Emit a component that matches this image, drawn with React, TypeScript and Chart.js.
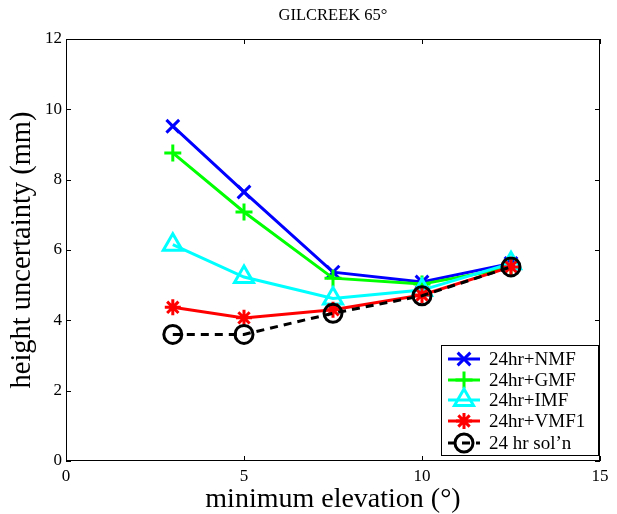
import React, { useEffect, useRef } from "react";
import { Chart, registerables } from "chart.js";
import { drawPoint } from "chart.js/helpers";

Chart.register(...registerables);

const titleText = "GILCREEK 65°";
const xTitle = "minimum elevation (°)";
const yTitle = "height uncertainty (mm)";
const elevations = [3, 5, 7.5, 10, 12.5];
const nmf = [9.52, 7.65, 5.37, 5.09, 5.62];
const gmf = [8.76, 7.08, 5.2, 5.03, 5.5];
const imf = [6.15, 5.23, 4.62, 4.86, 5.62];
const vmf1 = [4.37, 4.07, 4.3, 4.72, 5.52];
const soln = [3.6, 3.6, 4.2, 4.7, 5.52];
const seriesLabels = ["24hr+NMF", "24hr+GMF", "24hr+IMF", "24hr+VMF1", "24 hr sol’n"];
const xTicks = [0, 5, 10, 15];
const yTicks = [0, 2, 4, 6, 8, 10, 12];

const SERIF = "'Liberation Serif', 'DejaVu Serif', serif";

const styles = [
  { color: "#0000ff", point: "crossRot", radius: 9, dash: [] as number[] },
  { color: "#00ff00", point: "cross", radius: 8.5, dash: [] as number[] },
  { color: "#00ffff", point: "triangle", radius: 11, dash: [] as number[] },
  { color: "#ff0000", point: "star", radius: 8, dash: [] as number[] },
  { color: "#000000", point: "circle", radius: 9, dash: [8, 6] },
];

const values = [nmf, gmf, imf, vmf1, soln];

const framePlugin = {
  id: "frame",
  afterDraw(chart: any) {
    const { ctx, chartArea } = chart;
    const { left, right, top, bottom } = chartArea;
    const xs = chart.scales.x;
    const ys = chart.scales.y;
    ctx.save();
    ctx.strokeStyle = "#000";
    ctx.lineWidth = 1;
    ctx.setLineDash([]);
    ctx.strokeRect(left + 0.5, top + 0.5, right - left - 1, bottom - top - 1);
    ctx.beginPath();
    for (const v of xTicks) {
      const px = Math.round(xs.getPixelForValue(v)) + 0.5;
      ctx.moveTo(px, bottom);
      ctx.lineTo(px, bottom - 5);
      ctx.moveTo(px, top);
      ctx.lineTo(px, top + 5);
    }
    for (const v of yTicks) {
      const py = Math.round(ys.getPixelForValue(v)) + 0.5;
      ctx.moveTo(left, py);
      ctx.lineTo(left + 5, py);
      ctx.moveTo(right, py);
      ctx.lineTo(right - 5, py);
    }
    ctx.stroke();

    // title
    ctx.fillStyle = "#000";
    ctx.font = `16.5px ${SERIF}`;
    ctx.textAlign = "center";
    ctx.textBaseline = "middle";
    ctx.fillText(titleText, (left + right) / 2, 16);

    // legend
    const bx = 441, by = 345, bw = 157, bh = 110;
    ctx.fillStyle = "#fff";
    ctx.fillRect(bx, by, bw, bh);
    ctx.strokeStyle = "#000";
    ctx.lineWidth = 1;
    ctx.strokeRect(bx + 0.5, by + 0.5, bw, bh);
    const rowY = [359, 380, 400, 421, 443];
    styles.forEach((s, i) => {
      const y = rowY[i];
      ctx.save();
      ctx.strokeStyle = s.color;
      ctx.lineWidth = 3;
      ctx.setLineDash(s.dash);
      ctx.beginPath();
      ctx.moveTo(448, y);
      ctx.lineTo(480, y);
      ctx.stroke();
      ctx.setLineDash([]);
      ctx.fillStyle = "rgba(0,0,0,0)";
      ctx.lineWidth = 3;
      drawPoint(ctx, { pointStyle: s.point, radius: s.radius, borderWidth: 3, rotation: 0 } as any, 464, y);
      ctx.restore();
      ctx.fillStyle = "#000";
      ctx.font = `19px ${SERIF}`;
      ctx.textAlign = "left";
      ctx.textBaseline = "middle";
      ctx.fillText(seriesLabels[i], 489, y + 1);
    });
    ctx.restore();
  },
};

export default function App() {
  const ref = useRef<HTMLCanvasElement>(null);
  useEffect(() => {
    if (!ref.current) return;
    const datasets = values.map((vals, i) => ({
      label: seriesLabels[i],
      data: elevations.map((x, j) => ({ x, y: vals[j] })),
      borderColor: styles[i].color,
      backgroundColor: "rgba(0,0,0,0)",
      pointBorderColor: styles[i].color,
      pointBackgroundColor: "rgba(0,0,0,0)",
      pointStyle: styles[i].point,
      pointRadius: styles[i].radius,
      pointBorderWidth: 3,
      borderWidth: 3,
      borderDash: styles[i].dash,
      showLine: true,
      tension: 0,
      order: 5 - i,
    }));
    const chart = new Chart(ref.current, {
      type: "scatter",
      data: { datasets },
      options: {
        animation: false,
        responsive: false,
        layout: { padding: { top: 39, right: 17, left: 0, bottom: 0 } },
        plugins: { legend: { display: false }, title: { display: false }, tooltip: { enabled: false } },
        scales: {
          x: {
            type: "linear",
            min: 0,
            max: 15,
            afterBuildTicks: (s: any) => { s.ticks = xTicks.map((v) => ({ value: v })); },
            afterFit: (s: any) => { s.height = 53; },
            grid: { display: false, drawTicks: false },
            border: { display: false },
            ticks: { color: "#000", font: { family: SERIF, size: 17 }, padding: 5, maxRotation: 0 },
            title: { display: true, text: xTitle, color: "#000", font: { family: SERIF, size: 28 }, padding: { top: 0, bottom: -2 } },
          },
          y: {
            type: "linear",
            min: 0,
            max: 12,
            afterBuildTicks: (s: any) => { s.ticks = yTicks.map((v) => ({ value: v })); },
            afterFit: (s: any) => { s.width = 66; },
            grid: { display: false, drawTicks: false },
            border: { display: false },
            ticks: { color: "#000", font: { family: SERIF, size: 17 }, padding: 4 },
            title: { display: true, text: yTitle, color: "#000", font: { family: SERIF, size: 28.5 }, padding: { top: 5, bottom: 0 } },
          },
        },
      },
      plugins: [framePlugin],
    } as any);
    return () => chart.destroy();
  }, []);
  return (
    <div style={{ position: "fixed", left: 0, top: 0, width: 617, height: 514, background: "#fff" }}>
      <canvas ref={ref} width={617} height={514} style={{ display: "block" }} />
    </div>
  );
}
